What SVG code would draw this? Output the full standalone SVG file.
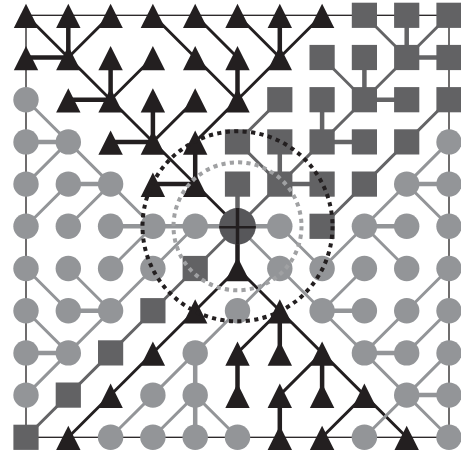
<svg xmlns="http://www.w3.org/2000/svg" xmlns:xlink="http://www.w3.org/1999/xlink" width="461" height="456" viewBox="0 0 461 456">
<style>
.bg{fill:#ffffff}
.frame{fill:none;stroke:#231f20;stroke-width:1.3}
line{stroke-linecap:butt}
.bk{stroke:#231f20}
.dk{stroke:#646466}
.lt{stroke:#939598}
.ax{stroke-width:4.5}
.dg{stroke-width:2.9}
.t{fill:#231f20}
.s{fill:#626264}
.c{fill:#939598}
.ctr{fill:#57575a}
.cross{stroke:#231f20}
.dotk{fill:none;stroke:#231f20;stroke-width:4;stroke-dasharray:4.2 4.33}
.dotg{fill:none;stroke:#a0a1a3;stroke-width:4;stroke-dasharray:4.2 4.18}
</style>
<defs>
<polygon id="tri" points="0,-11.5 12.2,12.8 -12.2,12.8"/>
<rect id="sq" x="-12.6" y="-12.6" width="25.2" height="25.2"/>
<circle id="ci" r="12.7"/>
</defs>
<rect class="bg" x="0" y="0" width="461" height="456"/>
<rect class="frame" x="26" y="15.3" width="423" height="422"/>
<g id="connectors">
<g id="black-edges">
<line class="bk ax" x1="237.5" y1="226.3" x2="237.5" y2="268.5"/>
<line class="bk ax" x1="195.2" y1="184.1" x2="195.2" y2="141.9"/>
<line class="bk ax" x1="195.2" y1="184.1" x2="152.9" y2="184.1"/>
<line class="bk ax" x1="152.9" y1="141.9" x2="152.9" y2="99.7"/>
<line class="bk ax" x1="152.9" y1="141.9" x2="110.6" y2="141.9"/>
<line class="bk ax" x1="110.6" y1="99.7" x2="110.6" y2="57.5"/>
<line class="bk ax" x1="110.6" y1="99.7" x2="68.3" y2="99.7"/>
<line class="bk ax" x1="68.3" y1="57.5" x2="68.3" y2="15.3"/>
<line class="bk ax" x1="68.3" y1="57.5" x2="26" y2="57.5"/>
<line class="bk ax" x1="237.5" y1="99.7" x2="237.5" y2="57.5"/>
<line class="bk ax" x1="279.8" y1="57.5" x2="279.8" y2="15.3"/>
<line class="bk ax" x1="279.8" y1="310.7" x2="279.8" y2="352.9"/>
<line class="bk ax" x1="237.5" y1="352.9" x2="237.5" y2="395.1"/>
<line class="bk ax" x1="322.1" y1="352.9" x2="322.1" y2="395.1"/>
<line class="bk ax" x1="279.8" y1="395.1" x2="279.8" y2="437.3"/>
<line class="bk dg" x1="26" y1="15.3" x2="237.5" y2="226.3"/>
<line class="bk dg" x1="152.9" y1="141.9" x2="195.2" y2="99.7"/>
<line class="bk dg" x1="110.6" y1="99.7" x2="152.9" y2="57.5"/>
<line class="bk dg" x1="68.3" y1="57.5" x2="110.6" y2="15.3"/>
<line class="bk dg" x1="195.2" y1="141.9" x2="237.5" y2="99.7"/>
<line class="bk dg" x1="237.5" y1="99.7" x2="152.9" y2="15.3"/>
<line class="bk dg" x1="237.5" y1="99.7" x2="279.8" y2="57.5"/>
<line class="bk dg" x1="237.5" y1="57.5" x2="195.2" y2="15.3"/>
<line class="bk dg" x1="279.8" y1="57.5" x2="237.5" y2="15.3"/>
<line class="bk dg" x1="279.8" y1="57.5" x2="322.1" y2="15.3"/>
<line class="bk dg" x1="237.5" y1="268.5" x2="68.3" y2="437.3"/>
<line class="bk dg" x1="237.5" y1="268.5" x2="279.8" y2="310.7"/>
<line class="bk dg" x1="279.8" y1="310.7" x2="237.5" y2="352.9"/>
<line class="bk dg" x1="279.8" y1="310.7" x2="322.1" y2="352.9"/>
<line class="bk dg" x1="322.1" y1="352.9" x2="279.8" y2="395.1"/>
<line class="bk dg" x1="322.1" y1="352.9" x2="364.4" y2="395.1"/>
<line class="bk dg" x1="364.4" y1="395.1" x2="322.1" y2="437.3"/>
<line class="bk dg" x1="364.4" y1="395.1" x2="406.7" y2="437.3"/>
</g>
<g id="square-edges">
<line class="dk ax" x1="237.5" y1="226.3" x2="237.5" y2="184.1"/>
<line class="dk ax" x1="279.8" y1="184.1" x2="322.1" y2="184.1"/>
<line class="dk ax" x1="279.8" y1="184.1" x2="279.8" y2="141.9"/>
<line class="dk ax" x1="322.1" y1="141.9" x2="322.1" y2="99.7"/>
<line class="dk ax" x1="322.1" y1="141.9" x2="364.4" y2="141.9"/>
<line class="dk ax" x1="364.4" y1="99.7" x2="364.4" y2="57.5"/>
<line class="dk ax" x1="364.4" y1="99.7" x2="406.7" y2="99.7"/>
<line class="dk ax" x1="406.7" y1="57.5" x2="406.7" y2="15.3"/>
<line class="dk ax" x1="406.7" y1="57.5" x2="449" y2="57.5"/>
<line class="dk dg" x1="237.5" y1="226.3" x2="279.8" y2="184.1"/>
<line class="dk dg" x1="237.5" y1="226.3" x2="195.2" y2="268.5"/>
<line class="dk dg" x1="279.8" y1="184.1" x2="237.5" y2="141.9"/>
<line class="dk dg" x1="279.8" y1="184.1" x2="322.1" y2="141.9"/>
<line class="dk dg" x1="237.5" y1="141.9" x2="279.8" y2="99.7"/>
<line class="dk dg" x1="322.1" y1="141.9" x2="364.4" y2="99.7"/>
<line class="dk dg" x1="364.4" y1="99.7" x2="322.1" y2="57.5"/>
<line class="dk dg" x1="364.4" y1="99.7" x2="406.7" y2="57.5"/>
<line class="dk dg" x1="406.7" y1="57.5" x2="364.4" y2="15.3"/>
<line class="dk dg" x1="406.7" y1="57.5" x2="449" y2="15.3"/>
<line class="dk dg" x1="322.1" y1="226.3" x2="364.4" y2="184.1"/>
<line class="dk dg" x1="364.4" y1="184.1" x2="406.7" y2="141.9"/>
<line class="dk dg" x1="406.7" y1="141.9" x2="449" y2="99.7"/>
<line class="dk dg" x1="195.2" y1="268.5" x2="152.9" y2="310.7"/>
<line class="dk dg" x1="152.9" y1="310.7" x2="110.6" y2="352.9"/>
<line class="dk dg" x1="110.6" y1="352.9" x2="68.3" y2="395.1"/>
<line class="dk dg" x1="68.3" y1="395.1" x2="26" y2="437.3"/>
</g>
<g id="circle-edges">
<line class="lt ax" x1="237.5" y1="226.3" x2="195.2" y2="226.3"/>
<line class="lt ax" x1="237.5" y1="226.3" x2="279.8" y2="226.3"/>
<line class="lt ax" x1="195.2" y1="226.3" x2="152.9" y2="226.3"/>
<line class="lt ax" x1="152.9" y1="226.3" x2="110.6" y2="226.3"/>
<line class="lt ax" x1="110.6" y1="184.1" x2="68.3" y2="184.1"/>
<line class="lt ax" x1="68.3" y1="141.9" x2="26" y2="141.9"/>
<line class="lt ax" x1="110.6" y1="310.7" x2="68.3" y2="310.7"/>
<line class="lt ax" x1="68.3" y1="352.9" x2="26" y2="352.9"/>
<line class="lt ax" x1="195.2" y1="352.9" x2="195.2" y2="395.1"/>
<line class="lt ax" x1="195.2" y1="395.1" x2="195.2" y2="437.3"/>
<line class="lt ax" x1="322.1" y1="310.7" x2="364.4" y2="310.7"/>
<line class="lt ax" x1="364.4" y1="352.9" x2="406.7" y2="352.9"/>
<line class="lt ax" x1="406.7" y1="395.1" x2="449" y2="395.1"/>
<line class="lt ax" x1="364.4" y1="226.3" x2="406.7" y2="226.3"/>
<line class="lt ax" x1="406.7" y1="184.1" x2="449" y2="184.1"/>
<line class="lt dg" x1="237.5" y1="226.3" x2="279.8" y2="268.5"/>
<line class="lt dg" x1="195.2" y1="226.3" x2="152.9" y2="268.5"/>
<line class="lt dg" x1="152.9" y1="226.3" x2="110.6" y2="184.1"/>
<line class="lt dg" x1="152.9" y1="226.3" x2="110.6" y2="268.5"/>
<line class="lt dg" x1="110.6" y1="184.1" x2="68.3" y2="141.9"/>
<line class="lt dg" x1="110.6" y1="184.1" x2="68.3" y2="226.3"/>
<line class="lt dg" x1="68.3" y1="184.1" x2="26" y2="226.3"/>
<line class="lt dg" x1="68.3" y1="141.9" x2="26" y2="99.7"/>
<line class="lt dg" x1="68.3" y1="141.9" x2="26" y2="184.1"/>
<line class="lt dg" x1="152.9" y1="268.5" x2="110.6" y2="310.7"/>
<line class="lt dg" x1="110.6" y1="310.7" x2="68.3" y2="268.5"/>
<line class="lt dg" x1="110.6" y1="310.7" x2="68.3" y2="352.9"/>
<line class="lt dg" x1="68.3" y1="310.7" x2="26" y2="268.5"/>
<line class="lt dg" x1="68.3" y1="352.9" x2="26" y2="310.7"/>
<line class="lt dg" x1="68.3" y1="352.9" x2="26" y2="395.1"/>
<line class="lt dg" x1="279.8" y1="268.5" x2="237.5" y2="310.7"/>
<line class="lt dg" x1="237.5" y1="310.7" x2="195.2" y2="352.9"/>
<line class="lt dg" x1="195.2" y1="352.9" x2="152.9" y2="395.1"/>
<line class="lt dg" x1="195.2" y1="395.1" x2="152.9" y2="437.3"/>
<line class="lt dg" x1="195.2" y1="395.1" x2="237.5" y2="437.3"/>
<line class="lt dg" x1="152.9" y1="395.1" x2="110.6" y2="437.3"/>
<line class="lt dg" x1="279.8" y1="268.5" x2="322.1" y2="310.7"/>
<line class="lt dg" x1="322.1" y1="310.7" x2="364.4" y2="268.5"/>
<line class="lt dg" x1="322.1" y1="310.7" x2="364.4" y2="352.9"/>
<line class="lt dg" x1="364.4" y1="352.9" x2="406.7" y2="310.7"/>
<line class="lt dg" x1="364.4" y1="352.9" x2="406.7" y2="395.1"/>
<line class="lt dg" x1="406.7" y1="352.9" x2="449" y2="310.7"/>
<line class="lt dg" x1="406.7" y1="310.7" x2="449" y2="268.5"/>
<line class="lt dg" x1="406.7" y1="395.1" x2="449" y2="352.9"/>
<line class="lt dg" x1="406.7" y1="395.1" x2="364.4" y2="437.3"/>
<line class="lt dg" x1="406.7" y1="395.1" x2="449" y2="437.3"/>
<line class="lt dg" x1="279.8" y1="226.3" x2="322.1" y2="268.5"/>
<line class="lt dg" x1="322.1" y1="268.5" x2="364.4" y2="226.3"/>
<line class="lt dg" x1="364.4" y1="226.3" x2="406.7" y2="184.1"/>
<line class="lt dg" x1="364.4" y1="226.3" x2="406.7" y2="268.5"/>
<line class="lt dg" x1="406.7" y1="184.1" x2="449" y2="141.9"/>
<line class="lt dg" x1="406.7" y1="184.1" x2="449" y2="226.3"/>
</g>
</g>
<g id="nodes">
<g id="n0-0" transform="translate(26,15.3)"><use href="#tri" class="t"/></g>
<g id="n0-1" transform="translate(68.3,15.3)"><use href="#tri" class="t"/></g>
<g id="n0-2" transform="translate(110.6,15.3)"><use href="#tri" class="t"/></g>
<g id="n0-3" transform="translate(152.9,15.3)"><use href="#tri" class="t"/></g>
<g id="n0-4" transform="translate(195.2,15.3)"><use href="#tri" class="t"/></g>
<g id="n0-5" transform="translate(237.5,15.3)"><use href="#tri" class="t"/></g>
<g id="n0-6" transform="translate(279.8,15.3)"><use href="#tri" class="t"/></g>
<g id="n0-7" transform="translate(322.1,15.3)"><use href="#tri" class="t"/></g>
<g id="n0-8" transform="translate(364.4,15.3)"><use href="#sq" class="s"/></g>
<g id="n0-9" transform="translate(406.7,15.3)"><use href="#sq" class="s"/></g>
<g id="n0-10" transform="translate(449,15.3)"><use href="#sq" class="s"/></g>
<g id="n1-0" transform="translate(26,57.5)"><use href="#tri" class="t"/></g>
<g id="n1-1" transform="translate(68.3,57.5)"><use href="#tri" class="t"/></g>
<g id="n1-2" transform="translate(110.6,57.5)"><use href="#tri" class="t"/></g>
<g id="n1-3" transform="translate(152.9,57.5)"><use href="#tri" class="t"/></g>
<g id="n1-4" transform="translate(195.2,57.5)"><use href="#tri" class="t"/></g>
<g id="n1-5" transform="translate(237.5,57.5)"><use href="#tri" class="t"/></g>
<g id="n1-6" transform="translate(279.8,57.5)"><use href="#tri" class="t"/></g>
<g id="n1-7" transform="translate(322.1,57.5)"><use href="#sq" class="s"/></g>
<g id="n1-8" transform="translate(364.4,57.5)"><use href="#sq" class="s"/></g>
<g id="n1-9" transform="translate(406.7,57.5)"><use href="#sq" class="s"/></g>
<g id="n1-10" transform="translate(449,57.5)"><use href="#sq" class="s"/></g>
<g id="n2-0" transform="translate(26,99.7)"><use href="#ci" class="c"/></g>
<g id="n2-1" transform="translate(68.3,99.7)"><use href="#tri" class="t"/></g>
<g id="n2-2" transform="translate(110.6,99.7)"><use href="#tri" class="t"/></g>
<g id="n2-3" transform="translate(152.9,99.7)"><use href="#tri" class="t"/></g>
<g id="n2-4" transform="translate(195.2,99.7)"><use href="#tri" class="t"/></g>
<g id="n2-5" transform="translate(237.5,99.7)"><use href="#tri" class="t"/></g>
<g id="n2-6" transform="translate(279.8,99.7)"><use href="#sq" class="s"/></g>
<g id="n2-7" transform="translate(322.1,99.7)"><use href="#sq" class="s"/></g>
<g id="n2-8" transform="translate(364.4,99.7)"><use href="#sq" class="s"/></g>
<g id="n2-9" transform="translate(406.7,99.7)"><use href="#sq" class="s"/></g>
<g id="n2-10" transform="translate(449,99.7)"><use href="#sq" class="s"/></g>
<g id="n3-0" transform="translate(26,141.9)"><use href="#ci" class="c"/></g>
<g id="n3-1" transform="translate(68.3,141.9)"><use href="#ci" class="c"/></g>
<g id="n3-2" transform="translate(110.6,141.9)"><use href="#tri" class="t"/></g>
<g id="n3-3" transform="translate(152.9,141.9)"><use href="#tri" class="t"/></g>
<g id="n3-4" transform="translate(195.2,141.9)"><use href="#tri" class="t"/></g>
<g id="n3-5" transform="translate(237.5,141.9)"><use href="#sq" class="s"/></g>
<g id="n3-6" transform="translate(279.8,141.9)"><use href="#sq" class="s"/></g>
<g id="n3-7" transform="translate(322.1,141.9)"><use href="#sq" class="s"/></g>
<g id="n3-8" transform="translate(364.4,141.9)"><use href="#sq" class="s"/></g>
<g id="n3-9" transform="translate(406.7,141.9)"><use href="#sq" class="s"/></g>
<g id="n3-10" transform="translate(449,141.9)"><use href="#ci" class="c"/></g>
<g id="n4-0" transform="translate(26,184.1)"><use href="#ci" class="c"/></g>
<g id="n4-1" transform="translate(68.3,184.1)"><use href="#ci" class="c"/></g>
<g id="n4-2" transform="translate(110.6,184.1)"><use href="#ci" class="c"/></g>
<g id="n4-3" transform="translate(152.9,184.1)"><use href="#tri" class="t"/></g>
<g id="n4-4" transform="translate(195.2,184.1)"><use href="#tri" class="t"/></g>
<g id="n4-5" transform="translate(237.5,184.1)"><use href="#sq" class="s"/></g>
<g id="n4-6" transform="translate(279.8,184.1)"><use href="#sq" class="s"/></g>
<g id="n4-7" transform="translate(322.1,184.1)"><use href="#sq" class="s"/></g>
<g id="n4-8" transform="translate(364.4,184.1)"><use href="#sq" class="s"/></g>
<g id="n4-9" transform="translate(406.7,184.1)"><use href="#ci" class="c"/></g>
<g id="n4-10" transform="translate(449,184.1)"><use href="#ci" class="c"/></g>
<g id="n5-0" transform="translate(26,226.3)"><use href="#ci" class="c"/></g>
<g id="n5-1" transform="translate(68.3,226.3)"><use href="#ci" class="c"/></g>
<g id="n5-2" transform="translate(110.6,226.3)"><use href="#ci" class="c"/></g>
<g id="n5-3" transform="translate(152.9,226.3)"><use href="#ci" class="c"/></g>
<g id="n5-4" transform="translate(195.2,226.3)"><use href="#ci" class="c"/></g>
<g id="n5-5" transform="translate(237.5,226.3)"><circle class="ctr" r="18.3"/><line class="cross" x1="0" y1="-18.3" x2="0" y2="18.3" stroke-width="3.5"/><line class="cross" x1="-18.3" y1="1" x2="18.3" y2="1" stroke-width="2.6"/></g>
<g id="n5-6" transform="translate(279.8,226.3)"><use href="#ci" class="c"/></g>
<g id="n5-7" transform="translate(322.1,226.3)"><use href="#sq" class="s"/></g>
<g id="n5-8" transform="translate(364.4,226.3)"><use href="#ci" class="c"/></g>
<g id="n5-9" transform="translate(406.7,226.3)"><use href="#ci" class="c"/></g>
<g id="n5-10" transform="translate(449,226.3)"><use href="#ci" class="c"/></g>
<g id="n6-0" transform="translate(26,268.5)"><use href="#ci" class="c"/></g>
<g id="n6-1" transform="translate(68.3,268.5)"><use href="#ci" class="c"/></g>
<g id="n6-2" transform="translate(110.6,268.5)"><use href="#ci" class="c"/></g>
<g id="n6-3" transform="translate(152.9,268.5)"><use href="#ci" class="c"/></g>
<g id="n6-4" transform="translate(195.2,268.5)"><use href="#sq" class="s"/></g>
<g id="n6-5" transform="translate(237.5,268.5)"><use href="#tri" class="t"/></g>
<g id="n6-6" transform="translate(279.8,268.5)"><use href="#ci" class="c"/></g>
<g id="n6-7" transform="translate(322.1,268.5)"><use href="#ci" class="c"/></g>
<g id="n6-8" transform="translate(364.4,268.5)"><use href="#ci" class="c"/></g>
<g id="n6-9" transform="translate(406.7,268.5)"><use href="#ci" class="c"/></g>
<g id="n6-10" transform="translate(449,268.5)"><use href="#ci" class="c"/></g>
<g id="n7-0" transform="translate(26,310.7)"><use href="#ci" class="c"/></g>
<g id="n7-1" transform="translate(68.3,310.7)"><use href="#ci" class="c"/></g>
<g id="n7-2" transform="translate(110.6,310.7)"><use href="#ci" class="c"/></g>
<g id="n7-3" transform="translate(152.9,310.7)"><use href="#sq" class="s"/></g>
<g id="n7-4" transform="translate(195.2,310.7)"><use href="#tri" class="t"/></g>
<g id="n7-5" transform="translate(237.5,310.7)"><use href="#ci" class="c"/></g>
<g id="n7-6" transform="translate(279.8,310.7)"><use href="#tri" class="t"/></g>
<g id="n7-7" transform="translate(322.1,310.7)"><use href="#ci" class="c"/></g>
<g id="n7-8" transform="translate(364.4,310.7)"><use href="#ci" class="c"/></g>
<g id="n7-9" transform="translate(406.7,310.7)"><use href="#ci" class="c"/></g>
<g id="n7-10" transform="translate(449,310.7)"><use href="#ci" class="c"/></g>
<g id="n8-0" transform="translate(26,352.9)"><use href="#ci" class="c"/></g>
<g id="n8-1" transform="translate(68.3,352.9)"><use href="#ci" class="c"/></g>
<g id="n8-2" transform="translate(110.6,352.9)"><use href="#sq" class="s"/></g>
<g id="n8-3" transform="translate(152.9,352.9)"><use href="#tri" class="t"/></g>
<g id="n8-4" transform="translate(195.2,352.9)"><use href="#ci" class="c"/></g>
<g id="n8-5" transform="translate(237.5,352.9)"><use href="#tri" class="t"/></g>
<g id="n8-6" transform="translate(279.8,352.9)"><use href="#tri" class="t"/></g>
<g id="n8-7" transform="translate(322.1,352.9)"><use href="#tri" class="t"/></g>
<g id="n8-8" transform="translate(364.4,352.9)"><use href="#ci" class="c"/></g>
<g id="n8-9" transform="translate(406.7,352.9)"><use href="#ci" class="c"/></g>
<g id="n8-10" transform="translate(449,352.9)"><use href="#ci" class="c"/></g>
<g id="n9-0" transform="translate(26,395.1)"><use href="#ci" class="c"/></g>
<g id="n9-1" transform="translate(68.3,395.1)"><use href="#sq" class="s"/></g>
<g id="n9-2" transform="translate(110.6,395.1)"><use href="#tri" class="t"/></g>
<g id="n9-3" transform="translate(152.9,395.1)"><use href="#ci" class="c"/></g>
<g id="n9-4" transform="translate(195.2,395.1)"><use href="#ci" class="c"/></g>
<g id="n9-5" transform="translate(237.5,395.1)"><use href="#tri" class="t"/></g>
<g id="n9-6" transform="translate(279.8,395.1)"><use href="#tri" class="t"/></g>
<g id="n9-7" transform="translate(322.1,395.1)"><use href="#tri" class="t"/></g>
<g id="n9-8" transform="translate(364.4,395.1)"><use href="#tri" class="t"/></g>
<g id="n9-9" transform="translate(406.7,395.1)"><use href="#ci" class="c"/></g>
<g id="n9-10" transform="translate(449,395.1)"><use href="#ci" class="c"/></g>
<g id="n10-0" transform="translate(26,437.3)"><use href="#sq" class="s"/></g>
<g id="n10-1" transform="translate(68.3,437.3)"><use href="#tri" class="t"/></g>
<g id="n10-2" transform="translate(110.6,437.3)"><use href="#ci" class="c"/></g>
<g id="n10-3" transform="translate(152.9,437.3)"><use href="#ci" class="c"/></g>
<g id="n10-4" transform="translate(195.2,437.3)"><use href="#ci" class="c"/></g>
<g id="n10-5" transform="translate(237.5,437.3)"><use href="#ci" class="c"/></g>
<g id="n10-6" transform="translate(279.8,437.3)"><use href="#tri" class="t"/></g>
<g id="n10-7" transform="translate(322.1,437.3)"><use href="#tri" class="t"/></g>
<g id="n10-8" transform="translate(364.4,437.3)"><use href="#ci" class="c"/></g>
<g id="n10-9" transform="translate(406.7,437.3)"><use href="#tri" class="t"/></g>
<g id="n10-10" transform="translate(449,437.3)"><use href="#ci" class="c"/></g>
</g>
<g id="neighbourhoods">
<circle class="dotg" cx="237.5" cy="226.3" r="64"/>
<circle class="dotk" cx="237.5" cy="226.3" r="95"/>
</g>
</svg>
